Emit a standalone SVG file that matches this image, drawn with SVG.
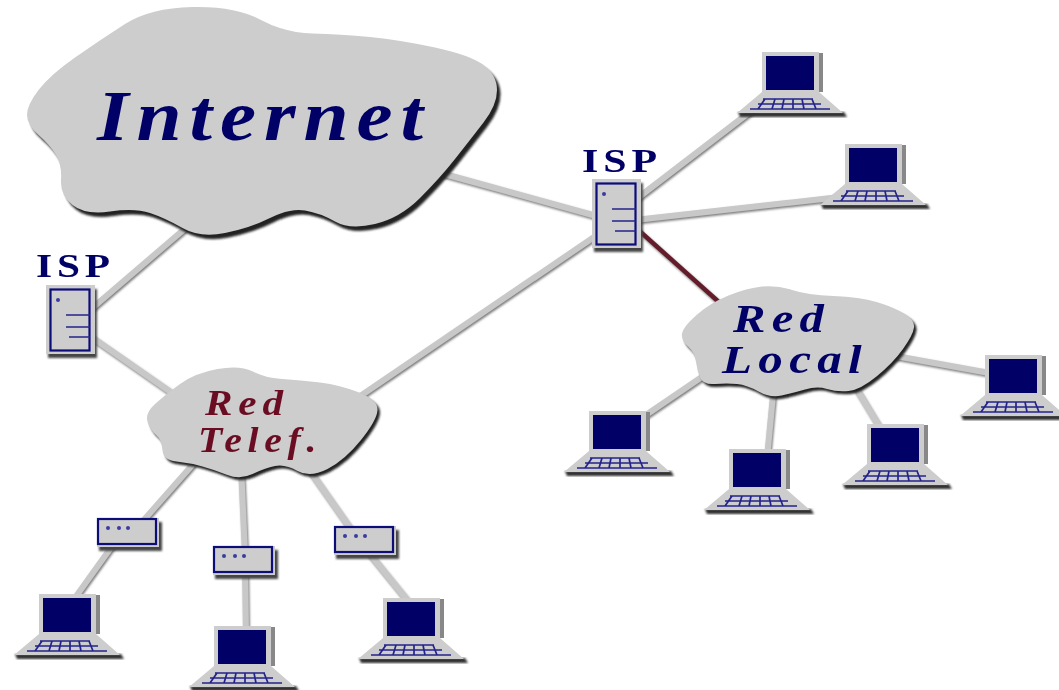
<svg xmlns="http://www.w3.org/2000/svg" width="1059" height="690" viewBox="0 0 1059 690">
<style>
.face{fill:#cdcdcd}
.shadow{fill:#333}
.navy{fill:#000066}
.key{stroke:#24248c;stroke-width:1.7;fill:none}
.frame{fill:none;stroke:#0a0a78;stroke-width:2.2}
.dot{fill:#3a3aa0}
.link{stroke:#c8c8c8;stroke-width:6;fill:none}
.red{stroke:#651a2c;stroke-width:4.5;fill:none}
text{font-family:"Liberation Serif","Times New Roman",serif;font-weight:bold}
.it{font-style:italic}
.b{fill:#000066}
.m{fill:#6b0f24}
</style>
<defs>
<filter id="soft" x="-5%" y="-5%" width="110%" height="110%"><feGaussianBlur stdDeviation="0.7"/></filter>
<filter id="sb" x="-10%" y="-10%" width="120%" height="120%"><feGaussianBlur stdDeviation="1.2"/></filter>
<filter id="ls" x="-10%" y="-10%" width="120%" height="120%"><feDropShadow dx="1" dy="1.6" stdDeviation="0.8" flood-color="#777"/></filter>
<path id="cloudA" d="M192.5,7 Q235,6 260,19.5 Q285,33 312.5,33.5 Q340,34 370,37 Q400,40 435,47.5 Q470,55 483.5,65 Q497,75 497,90 Q497,105 483.5,122.5 Q470,140 455,159 Q440,178 420,198 Q400,218 375,224 Q350,230 335,221.5 Q320,213 305,210.5 Q290,208 270,218 Q250,228 225,233 Q200,238 182.5,228 Q165,218 150,213 Q135,208 110,211.5 Q85,215 72.5,205 Q60,195 61,180 Q62,165 56,155 Q50,145 38.5,135 Q27,125 27,115 Q27,105 38.5,90 Q50,75 75,57.5 Q100,40 125,24 Q150,8 192.5,7Z"/>
<path id="cloudB" d="M217.5,369 Q240,365 252.5,371.5 Q265,378 282.5,379 Q300,380 320,382.5 Q340,385 359,392.5 Q378,400 377.5,410 Q377,420 361,440 Q345,460 327.5,469 Q310,478 297.5,471 Q285,464 275,466 Q265,468 252.5,474 Q240,480 227.5,475 Q215,470 202.5,466.5 Q190,463 176.5,461.5 Q163,460 162.5,450 Q162,440 156,435 Q150,430 147.5,421.5 Q145,413 155,404 Q165,395 180,384 Q195,373 217.5,369Z"/>
<path id="cloudC" d="M762,286.5 Q777,285 792,290 Q807,295 833.5,296 Q860,297 876.5,302 Q893,307 904,313.5 Q915,320 914,327.5 Q913,335 903,349 Q893,363 876.5,376.5 Q860,390 848.5,391 Q837,392 827,389 Q817,386 805,389.5 Q793,393 781.5,395.5 Q770,398 758.5,391.5 Q747,385 737,384 Q727,383 715,384 Q703,385 700,377.5 Q697,370 696,361.5 Q695,353 688,346.5 Q681,340 682,333.5 Q683,327 696.5,315 Q710,303 728.5,295.5 Q747,288 762,286.5Z"/>
<g id="laptop">
<path class="shadow" d="M-28,56H78L81,61H-26Z" filter="url(#sb)"/>
<rect x="53" y="-3" width="4" height="39" fill="#888" filter="url(#soft)"/>
<path class="face" d="M-4,-4H53V36L77,57H-29L-4,36Z"/>
<rect class="navy" x="0" y="0" width="48" height="34"/>
<path class="key" d="M-3,43H47M-8,48H55M-16,53H64M-1,43L-8,53M9,43L6,53M18,43L16,53M27,43L27,53M36,43L38,53M46,43L50,53"/>
</g>
<g id="server">
<rect x="2" y="4" width="49" height="69" fill="#444" filter="url(#sb)"/>
<rect class="face" x="0" y="0" width="49" height="69"/>
<rect class="frame" x="4.5" y="4.5" width="39" height="61"/>
<circle class="dot" cx="12" cy="15" r="2"/>
<path class="key" d="M20,30H44M20,42H44M23,52H44"/>
</g>
<g id="modem">
<rect x="1" y="3" width="63" height="29" fill="#444" filter="url(#sb)"/>
<rect class="face" x="-1" y="-1" width="62" height="29"/>
<rect class="frame" x="0" y="0" width="58" height="25"/>
<circle class="dot" cx="10" cy="9" r="2"/><circle class="dot" cx="21" cy="9" r="2"/><circle class="dot" cx="30" cy="9" r="2"/>
</g>
</defs>
<rect width="1059" height="690" fill="#fff"/>
<g filter="url(#soft)">
<g id="connectors" filter="url(#ls)">
<path class="link" d="M430,170L600,217M195,220L90,310M90,336L185,402M600,233L350,403M635,200L755,108M635,220L840,197"/>
<path class="link" d="M715,368L640,419M774,385L767,458M850,378L885,436M890,355L995,374"/>
<path class="link" d="M195,462L135,530M120,535L72,602M241,465L245,555M245,565L246,635M308,468L355,535M365,548L412,606"/>
<path class="red" d="M635,227L730,312"/>
</g>
<g id="internet">
<use href="#cloudA" fill="#222" transform="translate(3.5,4.5)" filter="url(#sb)"/>
<use href="#cloudA" class="face"/>
<text class="it b" x="97" y="140" font-size="72" letter-spacing="7" textLength="334" lengthAdjust="spacingAndGlyphs">Internet</text>
</g>
<g id="red-telef">
<use href="#cloudB" fill="#222" transform="translate(2.5,3)" filter="url(#sb)"/>
<use href="#cloudB" class="face"/>
<text class="it m" x="205" y="415" font-size="35" letter-spacing="5" textLength="84" lengthAdjust="spacingAndGlyphs">Red</text>
<text class="it m" x="198" y="452" font-size="35" letter-spacing="5" textLength="124" lengthAdjust="spacingAndGlyphs">Telef.</text>
</g>
<g id="red-local">
<use href="#cloudC" fill="#222" transform="translate(2.5,3)" filter="url(#sb)"/>
<use href="#cloudC" class="face"/>
<text class="it b" x="733" y="332" font-size="39" letter-spacing="5" textLength="97" lengthAdjust="spacingAndGlyphs">Red</text>
<text class="it b" x="722" y="373" font-size="39" letter-spacing="5" textLength="146" lengthAdjust="spacingAndGlyphs">Local</text>
</g>
<g id="isp-left">
<use href="#server" x="46" y="285"/>
<text class="b" x="36" y="277" font-size="34" letter-spacing="4" textLength="79" lengthAdjust="spacingAndGlyphs">ISP</text>
</g>
<g id="isp-right">
<use href="#server" x="592" y="179"/>
<text class="b" x="582" y="172" font-size="34" letter-spacing="4" textLength="80" lengthAdjust="spacingAndGlyphs">ISP</text>
</g>
<g id="modem-1"><use href="#modem" x="98" y="519"/></g>
<g id="modem-2"><use href="#modem" x="214" y="547"/></g>
<g id="modem-3"><use href="#modem" x="335" y="527"/></g>
<g id="laptop-1"><use href="#laptop" x="766" y="56"/></g>
<g id="laptop-2"><use href="#laptop" x="849" y="148"/></g>
<g id="laptop-3"><use href="#laptop" x="43" y="598"/></g>
<g id="laptop-4"><use href="#laptop" x="218" y="630"/></g>
<g id="laptop-5"><use href="#laptop" x="387" y="602"/></g>
<g id="laptop-6"><use href="#laptop" x="593" y="415"/></g>
<g id="laptop-7"><use href="#laptop" x="733" y="453"/></g>
<g id="laptop-8"><use href="#laptop" x="871" y="428"/></g>
<g id="laptop-9"><use href="#laptop" x="989" y="359"/></g>
</g>
</svg>
